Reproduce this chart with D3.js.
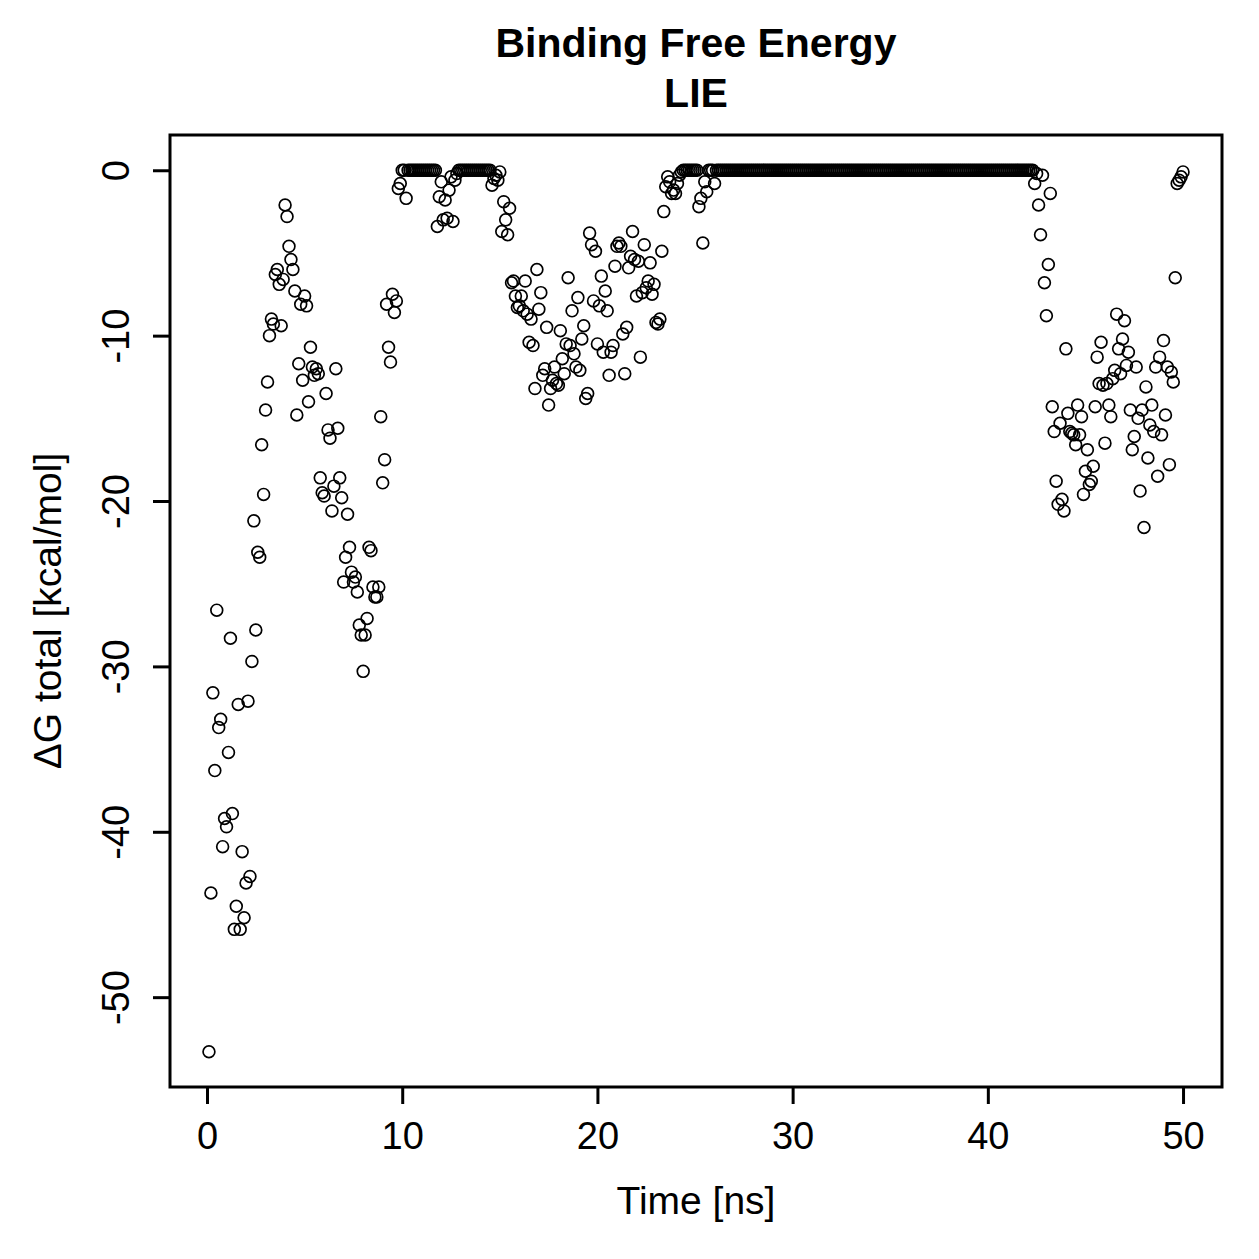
<!DOCTYPE html>
<html>
<head>
<meta charset="utf-8">
<script src="https://cdn.jsdelivr.net/npm/d3@7"></script>
<style>
  body { margin: 0; background: #fff; }
  svg { font-family: "Liberation Sans", Arial, Helvetica, sans-serif; }
</style>
</head>
<body>
<svg id="chart" width="1259" height="1259"></svg>
<script>
// sampling step of the trajectory, ns
const dt = 0.1;

const titleLines = ['Binding Free Energy', 'LIE'];
const xLabel = 'Time [ns]';
const yLabel = 'ΔG total [kcal/mol]';
const xTicks = [0, 10, 20, 30, 40, 50];
const yTicks = [0, -10, -20, -30, -40, -50];

// ΔG total per frame (t = 0.1 .. 50.0 ns)
const dG = [
  // 0.1 - 10.0
  -53.3, -43.7, -31.6, -36.3, -26.6, -33.7, -33.2, -40.9, -39.2, -39.7,
  -35.2, -28.3, -38.9, -45.9, -44.5, -32.3, -45.9, -41.2, -45.2, -43.1,
  -32.1, -42.7, -29.7, -21.2, -27.8, -23.1, -23.4, -16.6, -19.6, -14.5,
  -12.8, -10.0, -9.0, -9.3, -6.3, -6.0, -6.9, -9.4, -6.6, -2.1,
  -2.8, -4.6, -5.4, -6.0, -7.3, -14.8, -11.7, -8.1, -12.7, -7.6,
  -8.2, -14.0, -10.7, -11.9, -12.4, -12.0, -12.3, -18.6, -19.5, -19.7,
  -13.5, -15.7, -16.2, -20.6, -19.1, -12.0, -15.6, -18.6, -19.8, -24.9,
  -23.4, -20.8, -22.8, -24.3, -24.9, -24.6, -25.5, -27.5, -28.1, -30.3,
  -28.1, -27.1, -22.8, -23.0, -25.2, -25.8, -25.8, -25.2, -14.9, -18.9,
  -17.5, -8.1, -10.7, -11.6, -7.5, -8.6, -7.9, -1.1, -0.8, 0,
  // 10.1 - 15.0
  0, -1.7,
  0, 0, 0, 0, 0, 0, 0, 0, 0, 0, 0, 0, 0, 0, 0,
  -3.4, -1.6, -0.7, -3.0, -1.8, -2.9, -1.2, -0.4, -3.1, -0.6, -0.2,
  0, 0, 0, 0, 0, 0, 0, 0, 0, 0, 0, 0, 0, 0, 0, 0, 0,
  -0.9, -0.5, -0.3, -0.6, -0.1,
  // 15.1 - 22.6
  -3.7, -1.9, -3.0, -3.9, -2.3, -6.8, -6.7, -7.6, -8.3, -8.2,
  -7.6, -8.5, -6.7, -8.7, -10.4, -9.0, -10.6, -13.2, -6.0, -8.4,
  -7.4, -12.4, -12.0, -9.5, -14.2, -13.2, -12.7, -11.9, -12.9, -13.0,
  -9.7, -11.4, -12.3, -10.5, -6.5, -10.6, -8.5, -11.1, -11.9, -7.7,
  -12.1, -10.2, -9.4, -13.8, -13.5, -3.8, -4.5, -7.9, -4.9, -10.5,
  -8.2, -6.4, -11.0, -7.3, -8.5, -12.4, -11.0, -10.6, -5.8, -4.6,
  -4.4, -4.6, -9.9, -12.3, -9.5, -5.9, -5.2, -3.7, -5.4, -7.6,
  -5.5, -11.3, -7.4, -4.5, -7.1, -6.7,
  // 22.7 - 24.3
  -5.6, -7.5, -6.9, -9.2, -9.3, -9.0, -4.9, -2.5, -1.0, -0.4,
  -0.7, -1.4, -1.2, -1.4, -0.8, -0.3, -0.1,
  // 24.4 - 25.1
  0, 0, 0, 0, 0, 0, 0, 0,
  // 25.2 - 26.0
  -2.2, -1.7, -4.4, -0.7, -1.3, 0, 0, 0, -0.8,
  // 26.1 - 42.3
  0, 0, 0, 0, 0, 0, 0, 0, 0, 0, 0, 0, 0, 0, 0, 0, 0, 0, 0, 0,
  0, 0, 0, 0, 0, 0, 0, 0, 0, 0, 0, 0, 0, 0, 0, 0, 0, 0, 0, 0,
  0, 0, 0, 0, 0, 0, 0, 0, 0, 0, 0, 0, 0, 0, 0, 0, 0, 0, 0, 0,
  0, 0, 0, 0, 0, 0, 0, 0, 0, 0, 0, 0, 0, 0, 0, 0, 0, 0, 0, 0,
  0, 0, 0, 0, 0, 0, 0, 0, 0, 0, 0, 0, 0, 0, 0, 0, 0, 0, 0, 0,
  0, 0, 0, 0, 0, 0, 0, 0, 0, 0, 0, 0, 0, 0, 0, 0, 0, 0, 0, 0,
  0, 0, 0, 0, 0, 0, 0, 0, 0, 0, 0, 0, 0, 0, 0, 0, 0, 0, 0, 0,
  0, 0, 0, 0, 0, 0, 0, 0, 0, 0, 0, 0, 0, 0, 0, 0, 0, 0, 0, 0,
  0, 0, 0,
  // 42.4 - 50.0
  -0.8, -0.2, -2.1, -3.9, -0.3, -6.8, -8.8, -5.7, -1.4, -14.3,
  -15.8, -18.8, -20.2, -15.3, -19.9, -20.6, -10.8, -14.7, -15.8, -15.9,
  -16.0, -16.6, -14.2, -16.0, -14.9, -19.6, -18.2, -16.9, -19.0, -18.8,
  -17.9, -14.3, -11.3, -12.9, -10.4, -13.0, -16.5, -12.9, -14.2, -14.9,
  -12.6, -12.1, -8.7, -10.8, -12.3, -10.2, -9.1, -11.8, -11.0, -14.5,
  -16.9, -16.1, -11.9, -15.0, -19.4, -14.5, -21.6, -13.1, -17.4, -15.4,
  -14.2, -15.8, -11.9, -18.5, -11.3, -16.0, -10.3, -14.8, -11.9, -17.8,
  -12.2, -12.8, -6.5, -0.8, -0.6, -0.4, -0.1
];

const points = dG.map((v, i) => ({ t: +((i + 1) * dt).toFixed(1), v }));

const box = { left: 170, right: 1222, top: 135, bottom: 1087 };

// R-style 4% padding around the data range
function padded(ext) {
  const p = (ext[1] - ext[0]) * 0.04;
  return [ext[0] - p, ext[1] + p];
}

const xScale = d3.scaleLinear()
  .domain(padded(d3.extent(points, (d) => d.t)))
  .range([box.left, box.right]);

const yScale = d3.scaleLinear()
  .domain(padded(d3.extent(points, (d) => d.v)))
  .range([box.bottom, box.top]);

const svg = d3.select('#chart');

svg.append('rect')
  .attr('width', 1259)
  .attr('height', 1259)
  .attr('fill', '#fff');

// points
svg.append('g')
  .selectAll('circle')
  .data(points)
  .enter()
  .append('circle')
  .attr('cx', (d) => xScale(d.t))
  .attr('cy', (d) => yScale(d.v))
  .attr('r', 5.9)
  .attr('fill', 'none')
  .attr('stroke', '#000')
  .attr('stroke-width', 1.7);

// x axis
const gx = svg.append('g')
  .attr('transform', `translate(0,${box.bottom})`)
  .call(d3.axisBottom(xScale).tickValues(xTicks).tickSize(17).tickFormat(d3.format('d')));
gx.select('.domain').remove();
gx.selectAll('.tick line').attr('stroke-width', 3);
gx.selectAll('.tick text')
  .attr('y', 62)
  .attr('dy', 0)
  .attr('font-size', 38)
  .attr('fill', '#000');

// y axis
const gy = svg.append('g')
  .attr('transform', `translate(${box.left},0)`)
  .call(d3.axisLeft(yScale).tickValues(yTicks).tickSize(17).tickFormat((d) => String(d)));
gy.select('.domain').remove();
gy.selectAll('.tick line').attr('stroke-width', 3);
gy.selectAll('.tick text')
  .attr('x', 0)
  .attr('dy', 0)
  .attr('transform', 'translate(-41,0) rotate(-90)')
  .attr('text-anchor', 'middle')
  .attr('font-size', 38)
  .attr('fill', '#000');

// plot box
svg.append('rect')
  .attr('x', box.left)
  .attr('y', box.top)
  .attr('width', box.right - box.left)
  .attr('height', box.bottom - box.top)
  .attr('fill', 'none')
  .attr('stroke', '#000')
  .attr('stroke-width', 3);

// titles
const cx = (box.left + box.right) / 2;
svg.append('g')
  .selectAll('text')
  .data(titleLines)
  .enter()
  .append('text')
  .attr('x', cx)
  .attr('y', (d, i) => 57 + i * 50)
  .attr('text-anchor', 'middle')
  .attr('font-size', 41)
  .attr('font-weight', 'bold')
  .text((d) => d);

svg.append('text')
  .attr('x', cx)
  .attr('y', 1214)
  .attr('text-anchor', 'middle')
  .attr('font-size', 39)
  .text(xLabel);

svg.append('text')
  .attr('transform', `translate(61,${(box.top + box.bottom) / 2}) rotate(-90)`)
  .attr('text-anchor', 'middle')
  .attr('font-size', 39)
  .text(yLabel);
</script>
</body>
</html>
